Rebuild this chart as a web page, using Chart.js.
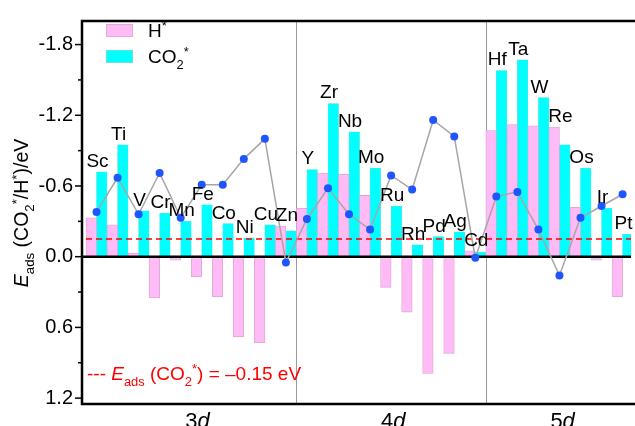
<!DOCTYPE html>
<html><head><meta charset="utf-8">
<script src="https://cdn.jsdelivr.net/npm/chart.js@4"></script>
<style>html,body{margin:0;padding:0;background:#fff;overflow:hidden}</style>
</head><body>
<canvas id="c" width="635" height="426"></canvas>
<script>
// ---------------- DATA ----------------
const elements3d = ['Sc','Ti','V','Cr','Mn','Fe','Co','Ni','Cu','Zn'];
const elements4d = ['Y','Zr','Nb','Mo','Ru','Rh','Pd','Ag','Cd'];
const elements5d = ['Hf','Ta','W','Re','Os','Ir','Pt'];
const elements = [...elements3d, ...elements4d, ...elements5d];

// E_ads(H*) in eV
const hValues = [-0.33,-0.27,-0.03,0.35,0.03,0.17,0.34,0.68,0.73,-0.26,
                 -0.41,-0.71,-0.70,-0.52,0.26,0.47,0.99,0.82,-0.05,
                 -1.07,-1.12,-1.11,-1.10,-0.42,0.03,0.34];
// E_ads(CO2*) in eV
const co2Values = [-0.72,-0.95,-0.39,-0.37,-0.30,-0.44,-0.28,-0.16,-0.27,-0.22,
                   -0.74,-1.30,-1.06,-0.75,-0.43,-0.10,-0.17,-0.21,-0.04,
                   -1.58,-1.67,-1.35,-0.95,-0.75,-0.41,-0.19];
// CO2* - H* (line with dots)
const diffValues = [-0.38,-0.67,-0.36,-0.71,-0.33,-0.61,-0.61,-0.83,-1.00,0.05,
                    -0.32,-0.58,-0.36,-0.23,-0.69,-0.57,-1.16,-1.02,0.01,
                    -0.51,-0.55,-0.23,0.16,-0.33,-0.43,-0.53];

const groupNumbers = ['3','4','5'];          // "3d", "4d", "5d"
const groupTickPos = [5.3, 14.6, 22.65];      // axis positions (element units)
const groupBoundaries = [10, 19];
const referenceValue = -0.15;
const yMajorTicks = [-1.8,-1.2,-0.6,0.0,0.6,1.2];
const yMinorTicks = [-1.5,-0.9,-0.3,0.3,0.9];

// ---------------- STYLE ----------------
const FAM = '"Liberation Sans", Arial, Helvetica, sans-serif';
const PINK = '#FFBBF6';
const CYAN = '#00FFFF';

function drawRich(ctx, parts, x, y, size, color, align) {
  const fontFor = p => {
    const small = (p.s === 'sub' || p.s === 'sup');
    const sz = small ? size * 0.68 : size;
    return (p.s === 'i' ? 'italic ' : '') + sz + 'px ' + FAM;
  };
  let w = 0;
  parts.forEach(p => { ctx.font = fontFor(p); p.w = ctx.measureText(p.t).width; w += p.w; });
  let cx = align === 'center' ? x - w / 2 : (align === 'right' ? x - w : x);
  ctx.fillStyle = color; ctx.textBaseline = 'alphabetic'; ctx.textAlign = 'left';
  parts.forEach(p => {
    ctx.font = fontFor(p);
    const dy = p.s === 'sub' ? size * 0.3 : (p.s === 'sup' ? -size * 0.38 : 0);
    ctx.fillText(p.t, cx, y + dy);
    cx += p.w;
  });
  return w;
}

const idx = elements.map((_, i) => i + 0.5);

const decor = {
  id: 'decor',
  beforeDatasetsDraw(chart) {
    const {ctx, chartArea: a, scales: {x}} = chart;
    ctx.save();
    ctx.strokeStyle = '#9a9a9a'; ctx.lineWidth = 1;
    groupBoundaries.forEach(b => {
      const px = Math.round(x.getPixelForValue(b)) + 0.5;
      ctx.beginPath(); ctx.moveTo(px, a.top); ctx.lineTo(px, a.bottom); ctx.stroke();
    });
    ctx.restore();
  },
  beforeDatasetDraw(chart, args) {
    if (args.index !== 2) return;
    const {ctx, chartArea: a, scales: {y}} = chart;
    ctx.save();
    const y0 = y.getPixelForValue(0);
    ctx.strokeStyle = '#000'; ctx.lineWidth = 2.5;
    ctx.beginPath(); ctx.moveTo(a.left, y0); ctx.lineTo(a.right, y0); ctx.stroke();
    const yr = y.getPixelForValue(referenceValue);
    ctx.strokeStyle = '#ff0000'; ctx.lineWidth = 1.6; ctx.setLineDash([6, 4]);
    ctx.beginPath(); ctx.moveTo(a.left + 4, yr); ctx.lineTo(a.right, yr); ctx.stroke();
    ctx.restore();
  },
  afterDatasetsDraw(chart) {
    const {ctx, chartArea: a, scales: {x, y}} = chart;
    ctx.save();
    ctx.font = '19px ' + FAM; ctx.fillStyle = '#000';
    ctx.textAlign = 'center'; ctx.textBaseline = 'alphabetic';
    elements.forEach((name, i) => {
      const topVal = Math.min(hValues[i], co2Values[i], 0);
      const px = x.getPixelForValue(i + 0.5) + 1;
      const py = y.getPixelForValue(topVal) - 5;
      ctx.fillText(name, px, py);
    });
    const lg = [[PINK, '#d9a6d3', [{t:'H', s:'n'},{t:'*', s:'sup'}]],
                [CYAN, '#7fd9d9', [{t:'CO', s:'n'},{t:'2', s:'sub'},{t:'*', s:'sup'}]]];
    lg.forEach((e, k) => {
      const ty = 24 + k * 26;
      ctx.fillStyle = e[0]; ctx.fillRect(106, ty, 27, 13);
      ctx.strokeStyle = e[1]; ctx.lineWidth = 0.8; ctx.strokeRect(106.5, ty + 0.5, 26, 12);
      drawRich(ctx, e[2], 148, ty + 13, 19, '#000', 'left');
    });
    drawRich(ctx, [{t:'--- ', s:'n'},{t:'E', s:'i'},{t:'ads', s:'sub'},{t:' (CO', s:'n'},
                   {t:'2', s:'sub'},{t:'*', s:'sup'},{t:') = \u20130.15 eV', s:'n'}],
             87, 380, 19, '#ff0000', 'left');
    ctx.strokeStyle = '#000'; ctx.lineWidth = 2.5; ctx.setLineDash([]);
    ctx.beginPath();
    ctx.moveTo(a.right + 5, a.top); ctx.lineTo(a.left, a.top); ctx.lineTo(a.left, a.bottom); ctx.lineTo(a.right + 5, a.bottom);
    ctx.stroke();
    ctx.lineWidth = 1.5;
    yMajorTicks.forEach(v => { const py = y.getPixelForValue(v); ctx.beginPath(); ctx.moveTo(a.left - 7, py); ctx.lineTo(a.left, py); ctx.stroke(); });
    yMinorTicks.forEach(v => { const py = y.getPixelForValue(v); ctx.beginPath(); ctx.moveTo(a.left - 4, py); ctx.lineTo(a.left, py); ctx.stroke(); });
    groupNumbers.forEach((n, k) => {
      drawRich(ctx, [{t:n, s:'n'},{t:'d', s:'i'}], x.getPixelForValue(groupTickPos[k]), 428, 22, '#000', 'center');
    });
    ctx.save();
    ctx.translate(28, 213);
    ctx.rotate(-Math.PI / 2);
    drawRich(ctx, [{t:'E', s:'i'},{t:'ads', s:'sub'},{t:' (CO', s:'n'},{t:'2', s:'sub'},{t:'*', s:'sup'},
                   {t:'/H', s:'n'},{t:'*', s:'sup'},{t:')/eV', s:'n'}], 0, 0, 19.5, '#000', 'center');
    ctx.restore();
    ctx.restore();
  }
};

new Chart(document.getElementById('c'), {
  type: 'bar',
  data: {
    datasets: [
      { type: 'bar', label: 'H*', data: elements.map((_, i) => ({x: idx[i], y: hValues[i]})),
        backgroundColor: PINK, borderColor: '#d9a6d3', borderWidth: 0.8, borderSkipped: false,
        barPercentage: 1, categoryPercentage: 1, order: 1 },
      { type: 'bar', label: 'CO2*', data: elements.map((_, i) => ({x: idx[i], y: co2Values[i]})),
        backgroundColor: CYAN, borderColor: '#66e0e0', borderWidth: 0.5, borderSkipped: false,
        barPercentage: 1, categoryPercentage: 1, order: 2 },
      { type: 'line', label: 'diff', data: elements.map((_, i) => ({x: idx[i], y: diffValues[i]})),
        borderColor: '#a6a6a6', borderWidth: 1.5, pointRadius: 4, pointHoverRadius: 4,
        pointBackgroundColor: '#1f55ff', pointBorderColor: '#1f55ff', pointBorderWidth: 0,
        tension: 0, order: 0 }
    ]
  },
  options: {
    responsive: false, animation: false, devicePixelRatio: 1,
    layout: { padding: { top: 13, right: -4, left: 0, bottom: 0 } },
    plugins: { legend: { display: false }, tooltip: { enabled: false } },
    scales: {
      x: { type: 'linear', min: -0.19, max: 25.9, offset: false, bounds: 'data', grace: 0,
           afterFit(s) { s.height = 22; },
           afterBuildTicks(s) { s.ticks = groupTickPos.map(v => ({value: v})); },
           ticks: { display: false }, grid: { display: false, drawTicks: false, offset: false }, border: { display: false } },
      y: { type: 'linear', reverse: true, min: -2.0, max: 1.25,
           afterFit(s) { s.width = 82; },
           afterBuildTicks(s) { s.ticks = yMajorTicks.map(v => ({value: v})); },
           ticks: { padding: 9, color: '#000', font: { size: 20, family: FAM },
                    callback: v => Number(v).toFixed(1) },
           grid: { display: false, drawTicks: false }, border: { display: false } }
    }
  },
  plugins: [decor]
});
</script>
</body></html>
